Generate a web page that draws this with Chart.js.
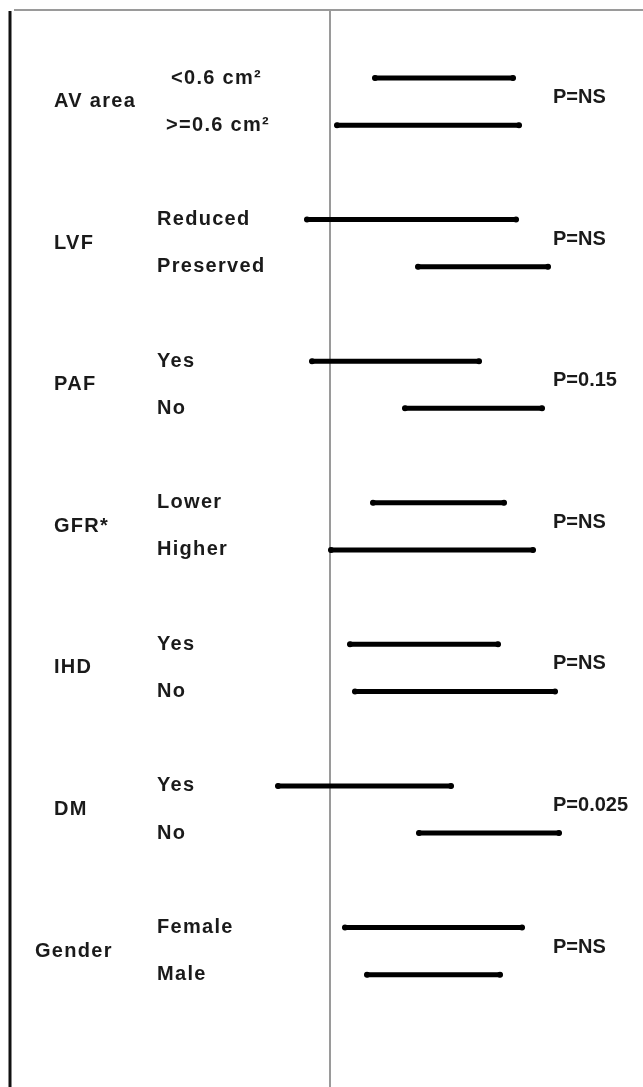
<!DOCTYPE html>
<html>
<head>
<meta charset="utf-8">
<script src="https://cdn.jsdelivr.net/npm/chart.js@4"></script>
<style>
  html, body { margin: 0; padding: 0; background: #fff; }
  #wrap { width: 643px; height: 1087px; }
</style>
</head>
<body>
<div id="wrap"><canvas id="c" width="643" height="1087"></canvas></div>
<script>
// data (x: difference from the reference line)
const groups = ['AV area', 'LVF', 'PAF', 'GFR*', 'IHD', 'DM', 'Gender']
const subgroups = [
  ['<0.6 cm²', '>=0.6 cm²'],
  ['Reduced', 'Preserved'],
  ['Yes', 'No'],
  ['Lower', 'Higher'],
  ['Yes', 'No'],
  ['Yes', 'No'],
  ['Female', 'Male']
]
const pValues = ['P=NS', 'P=NS', 'P=0.15', 'P=NS', 'P=NS', 'P=0.025', 'P=NS']
const lower = [0.45, 0.07, -0.23, 0.88, -0.18, 0.75, 0.43, 0.01, 0.20, 0.25, -0.52, 0.89, 0.15, 0.37]
const upper = [1.83, 1.89, 1.86, 2.18, 1.49, 2.12, 1.74, 2.03, 1.68, 2.25, 1.21, 2.29, 1.92, 1.70]

let rowPos = i => Math.floor(i / 2) * 3 + (i % 2)

let datasets = lower.map((lo, i) => ({
  data: [{ x: lo, y: rowPos(i) }, { x: upper[i], y: rowPos(i) }],
  showLine: true,
  borderColor: '#000',
  backgroundColor: '#000',
  borderWidth: 5,
  borderCapStyle: 'round',
  pointRadius: 3,
  pointBorderWidth: 0
}))

const font = 'bold 20px "Liberation Sans", Arial, sans-serif'

let framePlugin = {
  id: 'frame',
  beforeDatasetsDraw: chart => {
    let c = chart.ctx, xs = chart.scales.x
    let x0 = xs.getPixelForValue(0)
    c.save()
    c.strokeStyle = '#9a9a9a'
    c.lineWidth = 2
    c.beginPath()
    c.moveTo(14, 10); c.lineTo(643, 10)
    c.moveTo(x0, 10); c.lineTo(x0, 1087)
    c.stroke()
    c.strokeStyle = '#111'
    c.lineWidth = 3
    c.beginPath()
    c.moveTo(10, 11); c.lineTo(10, 1087)
    c.stroke()
    c.restore()
  },
  afterDatasetsDraw: chart => {
    let c = chart.ctx, ys = chart.scales.y
    c.save()
    c.fillStyle = '#1a1a1a'
    c.font = font
    c.textBaseline = 'middle'
    c.textAlign = 'left'
    groups.forEach((g, gi) => {
      let yA = ys.getPixelForValue(gi * 3)
      let yB = ys.getPixelForValue(gi * 3 + 1)
      let mid = (yA + yB) / 2
      c.letterSpacing = '1.3px'
      c.fillText(g, g === 'Gender' ? 35 : 54, mid)
      subgroups[gi].forEach((s, k) => {
        let y = k ? yB : yA
        let x = gi === 0 ? (k ? 166 : 171) : 157
        c.fillText(s, x, y)
      })
      c.letterSpacing = '0px'
      c.fillText(pValues[gi], 553, mid - 4)
    })
    c.restore()
  }
}

new Chart(document.getElementById('c'), {
  type: 'scatter',
  data: { datasets },
  options: {
    responsive: false,
    devicePixelRatio: 1,
    animation: false,
    layout: { padding: 0, autoPadding: false },
    plugins: { legend: { display: false }, tooltip: { enabled: false } },
    scales: {
      x: { type: 'linear', min: -3.30, max: 3.13, display: false },
      y: { type: 'linear', min: -1.653, max: 21.38, reverse: true, display: false }
    }
  },
  plugins: [framePlugin]
})
</script>
</body>
</html>
